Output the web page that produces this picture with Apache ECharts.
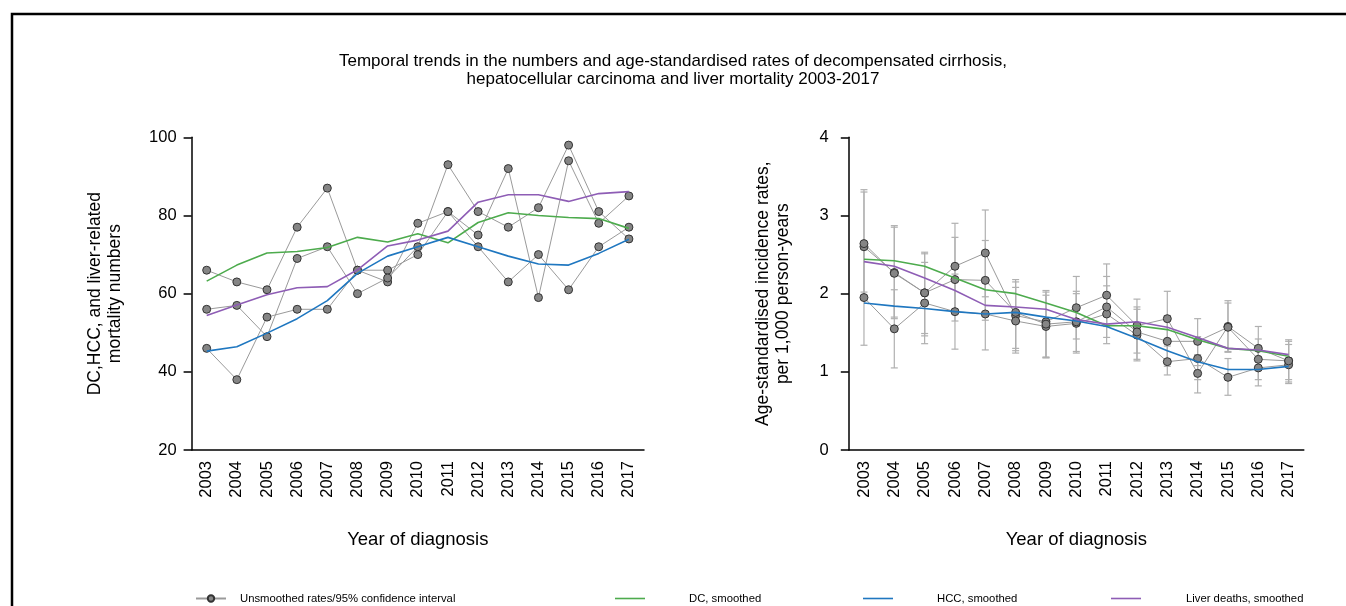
<!DOCTYPE html>
<html>
<head>
<meta charset="utf-8">
<script src="https://cdn.jsdelivr.net/npm/echarts@6/dist/echarts.min.js"></script>
<style>
html,body{margin:0;padding:0;background:#fff;}
#chart{width:1346px;height:606px;}
</style>
</head>
<body>
<div id="chart"></div>
<script>
// ---- data ----
const years = ['2003','2004','2005','2006','2007','2008','2009','2010','2011','2012','2013','2014','2015','2016','2017'];

// Left panel: numbers (unsmoothed)
const numDC    = [66,63,61,77,87,66,63,78,81,75,92,59,94,78,85];
const numHCC   = [46,38,54,56,56,66,66,70,81,72,63,70,61,72,77];
const numLiver = [56,57,49,69,72,60,64,72,93,81,77,82,98,81,74];
// Left panel: smoothed
const smNumDC    = [63.2,67.3,70.4,70.8,71.8,74.4,73.2,75.3,73.0,78.2,80.7,80.0,79.5,79.2,76.7];
const smNumHCC   = [45.3,46.4,49.9,53.6,58.2,65.2,69.6,72.0,74.4,72.0,69.6,67.6,67.3,70.3,73.9];
const smNumLiver = [54.4,57.1,59.7,61.5,61.8,66.1,72.2,73.7,76.0,83.4,85.3,85.3,83.6,85.6,86.1];

// Right panel: age-standardised rates (unsmoothed) and 95% CI
const rateDC      = [2.60,2.27,2.01,2.35,2.52,1.72,1.64,1.82,1.98,1.59,1.68,0.98,1.58,1.30,1.14];
const rateDCLo    = [1.98,1.70,1.49,1.80,1.96,1.27,1.19,1.42,1.58,1.24,1.33,0.73,1.26,1.02,0.90];
const rateDCHi    = [3.30,2.85,2.53,2.90,3.07,2.18,2.04,2.22,2.38,1.93,2.03,1.22,1.91,1.58,1.41];
const rateLiver   = [2.64,2.26,2.01,2.18,2.17,1.76,1.61,1.64,1.83,1.51,1.39,1.39,1.57,1.16,1.14];
const rateLiverLo = [2.02,1.68,1.46,1.65,1.66,1.30,1.18,1.26,1.44,1.16,1.07,1.08,1.25,0.90,0.87];
const rateLiverHi = [3.33,2.87,2.51,2.72,2.68,2.15,2.02,2.03,2.22,1.83,1.72,1.68,1.88,1.42,1.39];
const rateHCC     = [1.95,1.55,1.88,1.77,1.74,1.65,1.58,1.62,1.74,1.47,1.13,1.17,0.93,1.05,1.09];
const rateHCCLo   = [1.34,1.05,1.36,1.29,1.28,1.24,1.18,1.24,1.36,1.14,0.96,0.90,0.70,0.82,0.85];
const rateHCCHi   = [2.57,2.05,2.40,2.25,2.20,2.08,1.98,2.00,2.10,1.80,1.40,1.45,1.17,1.30,1.35];
// Right panel: smoothed
const smRateDC    = [2.44,2.42,2.35,2.20,2.05,2.00,1.88,1.76,1.59,1.59,1.54,1.41,1.30,1.27,1.20];
const smRateHCC   = [1.88,1.84,1.81,1.77,1.74,1.76,1.70,1.65,1.58,1.43,1.27,1.13,1.03,1.03,1.07];
const smRateLiver = [2.41,2.35,2.20,2.04,1.85,1.83,1.80,1.67,1.61,1.64,1.57,1.44,1.30,1.28,1.22];

const leftTicks  = {min:20, max:100, interval:20};
const rightTicks = {min:0, max:4, interval:1};

// ---- styles ----
const FONT = 'Liberation Sans, Arial, sans-serif';
const GREEN = '#4dab4d', BLUE = '#1f77c0', PURPLE = '#8e5db5';
const GREY_LINE = '#9a9a9a', DOT_FILL = '#858585', DOT_BORDER = '#333333';
const UNS = 'Unsmoothed rates/95% confidence interval';

function rawSeries(data, xi){
  return {
    name: UNS, type: 'line', xAxisIndex: xi, yAxisIndex: xi, data: data,
    symbol: 'circle', symbolSize: 8, z: 3,
    lineStyle: {color: GREY_LINE, width: 1},
    itemStyle: {color: DOT_FILL, borderColor: DOT_BORDER, borderWidth: 1},
    emphasis: {disabled: true}, animation: false
  };
}
function smoothSeries(name, data, color, xi){
  return {
    name: name, type: 'line', xAxisIndex: xi, yAxisIndex: xi, data: data,
    symbol: 'none', showSymbol: false, z: 4,
    lineStyle: {color: color, width: 1.6}, itemStyle: {color: color},
    emphasis: {disabled: true}, animation: false
  };
}
function errSeries(lo, hi){
  return {
    type: 'custom', xAxisIndex: 1, yAxisIndex: 1, z: 2, animation: false, silent: true,
    data: years.map((y, i) => [i, lo[i], hi[i]]),
    encode: {x: 0, y: [1, 2]},
    renderItem: function(params, api){
      const a = api.coord([api.value(0), api.value(1)]);
      const b = api.coord([api.value(0), api.value(2)]);
      const w = 3.5;
      const st = {stroke: '#b0b0b0', lineWidth: 1.2};
      return {type: 'group', children: [
        {type: 'line', shape: {x1: a[0], y1: a[1], x2: b[0], y2: b[1]}, style: st},
        {type: 'line', shape: {x1: a[0]-w, y1: a[1], x2: a[0]+w, y2: a[1]}, style: st},
        {type: 'line', shape: {x1: b[0]-w, y1: b[1], x2: b[0]+w, y2: b[1]}, style: st}
      ]};
    }
  };
}

function xAxisCfg(gi){
  return {
    type: 'category', gridIndex: gi, data: years, boundaryGap: true,
    name: 'Year of diagnosis', nameLocation: 'middle', nameGap: 80,
    nameTextStyle: {fontFamily: FONT, fontSize: 18.5, color: '#000'},
    axisLine: {lineStyle: {color: '#000', width: 1.5}},
    axisTick: {alignWithLabel: true, length: 8, lineStyle: {color: '#000', width: 1.5}},
    axisLabel: {rotate: 90, margin: 11, fontFamily: FONT, fontSize: 16.5, color: '#000', interval: 0},
    splitLine: {show: false}
  };
}
function yAxisCfg(gi, t, name, gap, margin){
  return {
    type: 'value', gridIndex: gi, min: t.min, max: t.max, interval: t.interval,
    name: name, nameLocation: 'middle', nameGap: gap, nameRotate: 90,
    nameTextStyle: {fontFamily: FONT, fontSize: 17.5, color: '#000', lineHeight: 20},
    axisLine: {show: true, lineStyle: {color: '#000', width: 1.5}},
    axisTick: {show: true, length: 8, lineStyle: {color: '#000', width: 1.5}},
    axisLabel: {margin: margin, fontFamily: FONT, fontSize: 16.5, color: '#000'},
    splitLine: {show: false}
  };
}

function legendCfg(name, left, gap, lineOnly){
  const item = lineOnly ? {name: name, icon: 'rect'} : {name: name};
  return {
    left: left, top: 588, data: [item], itemWidth: 30, itemHeight: lineOnly ? 1.6 : 8,
    selectedMode: false,
    textStyle: {fontFamily: FONT, fontSize: 11.3, color: '#000', padding: [0, 0, 0, gap]}
  };
}

const chart = echarts.init(document.getElementById('chart'), null, {renderer: 'canvas'});
chart.setOption({
  backgroundColor: '#fff',
  animation: false,
  title: {
    text: 'Temporal trends in the numbers and age-standardised rates of decompensated cirrhosis,\nhepatocellular carcinoma and liver mortality 2003-2017',
    left: 'center', top: 47,
    textStyle: {fontFamily: FONT, fontSize: 17, fontWeight: 'normal', color: '#000', lineHeight: 18, align: 'center'}
  },
  graphic: [{
    type: 'rect', shape: {x: 12, y: 14, width: 1400, height: 700},
    style: {fill: 'none', stroke: '#000', lineWidth: 2.5}, silent: true, z: 100
  }],
  legend: [
    legendCfg(UNS, 190, 9, false),
    legendCfg('DC, smoothed', 610, 39, true),
    legendCfg('HCC, smoothed', 858, 39, true),
    legendCfg('Liver deaths, smoothed', 1106, 40, true)
  ],
  grid: [
    {left: 191.6, right: 702, top: 137.3, bottom: 156},
    {left: 848.8, right: 42.2, top: 137.3, bottom: 156}
  ],
  xAxis: [xAxisCfg(0), xAxisCfg(1)],
  yAxis: [
    yAxisCfg(0, leftTicks, 'DC,HCC, and liver-related\nmortality numbers', 66, 15),
    yAxisCfg(1, rightTicks, 'Age-standardised incidence rates,\nper 1,000 person-years', 56, 20)
  ],
  series: [
    rawSeries(numDC, 0), rawSeries(numHCC, 0), rawSeries(numLiver, 0),
    smoothSeries('DC, smoothed', smNumDC, GREEN, 0),
    smoothSeries('HCC, smoothed', smNumHCC, BLUE, 0),
    smoothSeries('Liver deaths, smoothed', smNumLiver, PURPLE, 0),
    errSeries(rateDCLo, rateDCHi), errSeries(rateLiverLo, rateLiverHi), errSeries(rateHCCLo, rateHCCHi),
    rawSeries(rateDC, 1), rawSeries(rateHCC, 1), rawSeries(rateLiver, 1),
    smoothSeries('DC, smoothed', smRateDC, GREEN, 1),
    smoothSeries('HCC, smoothed', smRateHCC, BLUE, 1),
    smoothSeries('Liver deaths, smoothed', smRateLiver, PURPLE, 1)
  ]
});
</script>
</body>
</html>
